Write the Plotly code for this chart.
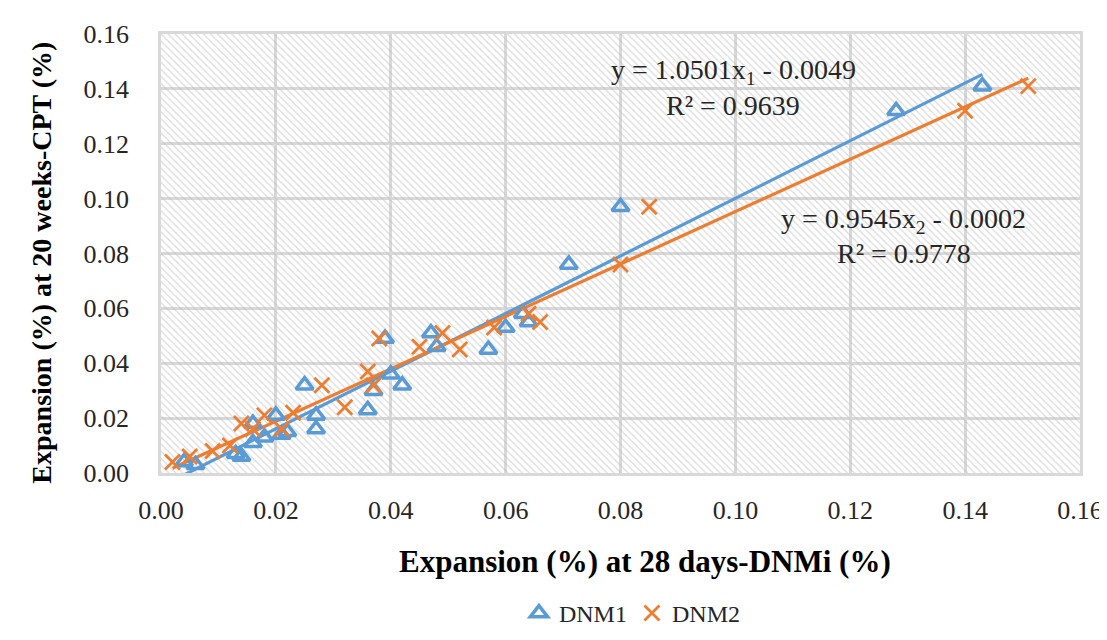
import plotly.graph_objects as go

# ---- data ----
dnm1_x = [0.004, 0.006, 0.013, 0.014, 0.016, 0.016, 0.018, 0.020, 0.021, 0.022,
          0.025, 0.027, 0.027, 0.036, 0.037, 0.039, 0.040, 0.042, 0.047, 0.048,
          0.057, 0.060, 0.063, 0.064, 0.071, 0.080, 0.128, 0.143]
dnm1_y = [0.004, 0.003, 0.007, 0.006, 0.011, 0.018, 0.013, 0.021, 0.014, 0.015,
          0.032, 0.021, 0.016, 0.023, 0.030, 0.049, 0.036, 0.032, 0.051, 0.046,
          0.045, 0.053, 0.058, 0.055, 0.076, 0.097, 0.132, 0.141]

dnm2_x = [0.002, 0.005, 0.009, 0.012, 0.014, 0.016, 0.018, 0.021, 0.023, 0.028,
          0.032, 0.036, 0.037, 0.038, 0.045, 0.049, 0.052, 0.058, 0.064, 0.066,
          0.080, 0.085, 0.140, 0.151]
dnm2_y = [0.004, 0.006, 0.008, 0.010, 0.018, 0.016, 0.021, 0.016, 0.022, 0.032,
          0.024, 0.037, 0.032, 0.049, 0.046, 0.051, 0.045, 0.053, 0.058, 0.055,
          0.076, 0.097, 0.132, 0.141]

# trendline equations as printed on the chart
fit1_slope, fit1_icpt, fit1_r2 = 1.0501, -0.0049, 0.9639
fit2_slope, fit2_icpt, fit2_r2 = 0.9545, -0.0002, 0.9778

tick_vals = [0.00, 0.02, 0.04, 0.06, 0.08, 0.10, 0.12, 0.14, 0.16]
tick_text = ["0.00", "0.02", "0.04", "0.06", "0.08", "0.10", "0.12", "0.14", "0.16"]
axis_range = [0.0, 0.16]

BLUE = "#5B9BD5"
ORANGE = "#ED7D31"
GRID = "#d9d9d9"
SERIF = "Liberation Serif, Times New Roman, serif"

fig = go.Figure()

# hatched plot-area background
fig.add_trace(go.Bar(
    x=[(axis_range[0] + axis_range[1]) / 2], y=[axis_range[1] - axis_range[0]],
    width=[axis_range[1] - axis_range[0]], base=[axis_range[0]],
    marker=dict(color="#b8b8b8", line=dict(width=0),
                pattern=dict(shape="\\", size=5, solidity=0.25,
                             fgcolor="#b8b8b8", bgcolor="rgba(0,0,0,0)")),
    showlegend=False, hoverinfo="skip"))

# trendlines
t1x = [min(dnm1_x), max(dnm1_x)]
t2x = [min(dnm2_x), max(dnm2_x)]
fig.add_trace(go.Scatter(x=t1x, y=[fit1_slope * v + fit1_icpt for v in t1x],
                         mode="lines", line=dict(color=BLUE, width=3.2),
                         showlegend=False, hoverinfo="skip"))
fig.add_trace(go.Scatter(x=t2x, y=[fit2_slope * v + fit2_icpt for v in t2x],
                         mode="lines", line=dict(color=ORANGE, width=3.2),
                         showlegend=False, hoverinfo="skip"))

fig.add_trace(go.Scatter(x=dnm1_x, y=dnm1_y, mode="markers", name="DNM1",
                         marker=dict(symbol="triangle-up-open", size=15, color=BLUE,
                                     line=dict(width=3.5, color=BLUE))))
fig.add_trace(go.Scatter(x=dnm2_x, y=dnm2_y, mode="markers", name="DNM2",
                         marker=dict(symbol="x-thin-open", size=15, color=ORANGE,
                                     line=dict(width=2.8, color=ORANGE))))

axis_common = dict(range=axis_range, tickvals=tick_vals, ticktext=tick_text,
                   showgrid=True, gridcolor=GRID, gridwidth=2.5,
                   showline=True, linecolor=GRID, linewidth=2.5, mirror=True,
                   zeroline=False, ticks="",
                   tickfont=dict(family=SERIF, size=26, color="#262626"))

fig.update_xaxes(**axis_common, ticklabelstandoff=12)
fig.update_yaxes(**axis_common, ticklabelstandoff=24)

ann_font = dict(family=SERIF, size=28, color="#262626")
fig.update_layout(
    width=1107, height=640,
    margin=dict(l=153, r=27, t=20, b=159),
    paper_bgcolor="white", plot_bgcolor="white",
    bargap=0,
    legend=dict(orientation="h", x=0.513, xanchor="center", y=-0.32, yanchor="middle",
                font=dict(family=SERIF, size=24, color="#262626"),
                itemwidth=30, tracegroupgap=0, bgcolor="rgba(0,0,0,0)"),
    annotations=[
        dict(text="<b>Expansion (%) at 28 days-DNMi (%)</b>", xref="paper", yref="paper",
             x=0.5264, y=-0.2026, xanchor="center", yanchor="middle",
             showarrow=False, font=dict(family=SERIF, size=31, color="#000000")),
        dict(text="<b>Expansion (%) at 20 weeks-CPT (%)</b>", xref="paper", yref="paper",
             x=-0.13, y=0.478, xanchor="center", yanchor="middle", textangle=-90,
             showarrow=False, font=dict(family=SERIF, size=28, color="#000000")),
        dict(text=f"y = {fit1_slope:.4f}x<sub>1</sub> - {abs(fit1_icpt):.4f}",
             xref="x", yref="y", x=0.0996, y=0.1462, showarrow=False, font=ann_font),
        dict(text=f"R² = {fit1_r2:.4f}", xref="x", yref="y", x=0.0995, y=0.1340,
             showarrow=False, font=ann_font),
        dict(text=f"y = {fit2_slope:.4f}x<sub>2</sub> - {abs(fit2_icpt):.4f}",
             xref="x", yref="y", x=0.1293, y=0.0922, showarrow=False, font=ann_font),
        dict(text=f"R² = {fit2_r2:.4f}", xref="x", yref="y", x=0.1293, y=0.0800,
             showarrow=False, font=ann_font),
    ],
)

fig.write_html("out.html")
